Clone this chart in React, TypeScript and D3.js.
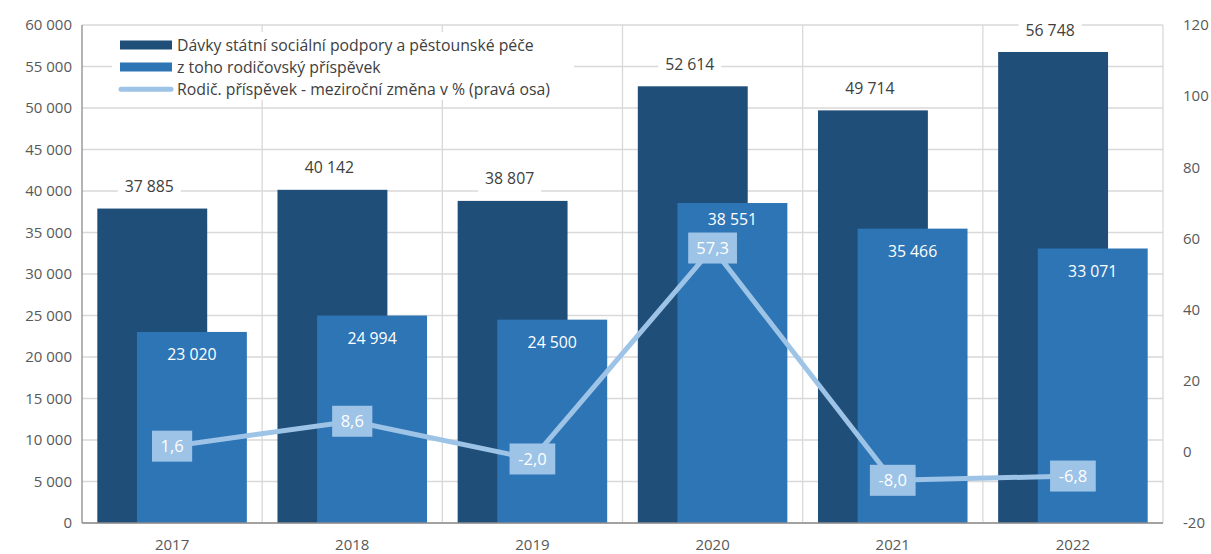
import React from 'react';
import * as d3 from 'd3';

const years = ['2017', '2018', '2019', '2020', '2021', '2022'];
const benefits = [37885, 40142, 38807, 52614, 49714, 56748];
const parental = [23020, 24994, 24500, 38551, 35466, 33071];
const changePct = [1.6, 8.6, -2.0, 57.3, -8.0, -6.8];
const leftTicks = [0, 5000, 10000, 15000, 20000, 25000, 30000, 35000, 40000, 45000, 50000, 55000, 60000];
const rightTicks = [-20, 0, 20, 40, 60, 80, 100, 120];
const legendLabels = [
  'Dávky státní sociální podpory a pěstounské péče',
  'z toho rodičovský příspěvek',
  'Rodič. příspěvek - meziroční změna v % (pravá osa)',
];

const DARK = '#1F4E79';
const MID = '#2E75B6';
const LIGHT = '#9DC3E6';
const GRID = '#D9D9D9';
const TEXT = '#595959';
const FONT = '"Open Sans", sans-serif';

const W = 1211, H = 554;
const margin = { top: 25, right: 48, bottom: 31, left: 82 };

const fmtThousands = (v: number) => d3.format(',')(v).replace(/,/g, ' ');
const fmtPct = (v: number) => v.toFixed(1).replace('.', ',');

// rough text width for the label boxes
const textWidth = (s: string) =>
  s.split('').reduce((acc, c) => acc + (c === ',' ? 4 : c === '-' ? 5.5 : c === ' ' ? 4 : 8.6), 0);

export default function App() {
  const x = d3.scaleBand().domain(years).range([margin.left, W - margin.right]);
  const yL = d3.scaleLinear().domain([0, 60000]).range([H - margin.bottom, margin.top]);
  const yR = d3.scaleLinear().domain([-20, 120]).range([H - margin.bottom, margin.top]);
  const bw = x.bandwidth();
  const barW = bw * 0.61;
  const darkOff = bw * 0.085;
  const midOff = bw * 0.305;

  const line = d3.line<number>()
    .x((_, i) => (x(years[i]) as number) + bw / 2)
    .y(d => yR(d));

  const bottom = H - margin.bottom;
  const right = W - margin.right;

  return (
    <svg width={W} height={H} style={{ position: 'absolute', left: 0, top: 0 }} fontFamily={FONT}>
      <rect width={W} height={H} fill="#fff" />
      {/* horizontal gridlines */}
      {leftTicks.map(t => (
        <line key={'h' + t} x1={margin.left} x2={right} y1={yL(t)} y2={yL(t)} stroke={GRID} strokeWidth={1.3} />
      ))}
      {/* vertical gridlines at category edges */}
      {years.map(y => (
        <line key={'v' + y} x1={(x(y) as number) + bw} x2={(x(y) as number) + bw}
          y1={margin.top} y2={bottom} stroke={GRID} strokeWidth={1.3} />
      ))}
      {/* left axis labels */}
      {leftTicks.map(t => (
        <text key={'lt' + t} x={72} y={yL(t)} dy="0.35em" textAnchor="end" fontSize={15} fill={TEXT}>
          {fmtThousands(t)}
        </text>
      ))}
      {/* right axis labels */}
      {rightTicks.map(t => (
        <text key={'rt' + t} x={1183} y={yR(t)} dy="0.35em" textAnchor="start" fontSize={15} fill={TEXT}>
          {t}
        </text>
      ))}
      {/* bars */}
      {years.map((y, i) => (
        <rect key={'d' + y} x={(x(y) as number) + darkOff} y={yL(benefits[i])}
          width={barW} height={bottom - yL(benefits[i])} fill={DARK} />
      ))}
      {years.map((y, i) => (
        <rect key={'m' + y} x={(x(y) as number) + midOff} y={yL(parental[i])}
          width={barW} height={bottom - yL(parental[i])} fill={MID} />
      ))}
      {/* axes lines */}
      <line x1={margin.left} x2={margin.left} y1={margin.top} y2={bottom} stroke="#8C8C8C" strokeWidth={1.3} />
      <line x1={margin.left} x2={right} y1={bottom} y2={bottom} stroke="#8C8C8C" strokeWidth={1.3} />
      {/* x labels */}
      {years.map(y => (
        <text key={'xl' + y} x={(x(y) as number) + bw / 2} y={545} dy="0.35em" textAnchor="middle" fontSize={15} fill={TEXT}>
          {y}
        </text>
      ))}
      {/* dark bar labels */}
      {years.map((y, i) => {
        const s = fmtThousands(benefits[i]);
        const cx = (x(y) as number) + darkOff + barW / 2 - 3;
        const cy = yL(benefits[i]) - 22;
        const w = textWidth(s) + 16;
        return (
          <g key={'dl' + y}>
            <rect x={cx - w / 2} y={cy - 13} width={w} height={26} fill="#fff" />
            <text x={cx} y={cy} dy="0.35em" textAnchor="middle" fontSize={15.8} fill="#404040">{s}</text>
          </g>
        );
      })}
      {/* mid bar labels, pushed up if the line label would cover them */}
      {years.map((y, i) => {
        const boxTop = yR(changePct[i]) - 15.5;
        const cy = Math.min(yL(parental[i]) + 23, boxTop - 13);
        return (
          <text key={'ml' + y} x={(x(y) as number) + midOff + barW / 2} y={cy}
            dy="0.35em" textAnchor="middle" fontSize={15.8} fill="#fff">
            {fmtThousands(parental[i])}
          </text>
        );
      })}
      {/* line */}
      <path d={line(changePct) || ''} fill="none" stroke={LIGHT} strokeWidth={5} strokeLinejoin="round" />
      {changePct.map((v, i) => {
        const s = fmtPct(v);
        const cx = (x(years[i]) as number) + bw / 2;
        const cy = yR(v);
        const w = textWidth(s) + 19;
        return (
          <g key={'pl' + i}>
            <rect x={cx - w / 2} y={cy - 15.5} width={w} height={31} fill={LIGHT} />
            <text x={cx} y={cy} dy="0.35em" textAnchor="middle" fontSize={16.5} fill="#fff">{s}</text>
          </g>
        );
      })}
      {/* legend */}
      <rect x={112} y={32} width={462} height={68} fill="#fff" />
      <rect x={120} y={40.5} width={52} height={9} fill={DARK} />
      <rect x={120} y={62.5} width={52} height={9} fill={MID} />
      <line x1={121} x2={171} y1={89.3} y2={89.3} stroke={LIGHT} strokeWidth={5} strokeLinecap="round" />
      {legendLabels.map((l, i) => (
        <text key={'lg' + i} x={177} y={45 + i * 22.3} dy="0.35em" fontSize={15.8} fill="#404040">{l}</text>
      ))}
    </svg>
  );
}
